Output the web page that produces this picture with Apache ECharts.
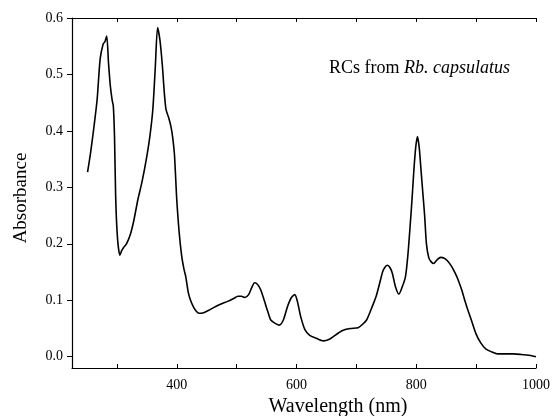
<!DOCTYPE html>
<html>
<head>
<meta charset="utf-8">
<script src="https://cdn.jsdelivr.net/npm/echarts@6/dist/echarts.min.js"></script>
<style>
html,body{margin:0;padding:0;background:#fff;}
#c{width:553px;height:416px;}
</style>
</head>
<body>
<div id="c"></div>
<script>
// Wavelength (nm)
var wavelength = [251,256,262,267,272,277,280,283,286,289,292,294,296,298,301,305,308,311,316,322,328,335,342,349,355,360,364,368,372,376,379,382,386,390,393,396,398,400,404,408,412,415,419,423,428,433,437,445,455,465,475,485,495,502,508,514,520,525,530,535,540,546,552,557,563,571,578,585,591,597,601,607,614,622,632,645,655,662,670,678,690,703,710,717,725,733,740,744,748,752,756,760,765,771,776,782,786,790,793,796,799,802,805,808,811,814,817,821,825,829,835,841,846,852,859,865,870,876,881,887,892,900,908,916,925,936,950,963,975,991,1000];
// Absorbance
var absorbance = [0.327,0.361,0.41,0.456,0.527,0.554,0.558,0.568,0.52,0.48,0.455,0.444,0.39,0.28,0.21,0.18,0.188,0.193,0.2,0.215,0.24,0.278,0.31,0.349,0.39,0.438,0.51,0.583,0.56,0.515,0.47,0.438,0.425,0.409,0.39,0.36,0.32,0.278,0.22,0.18,0.155,0.142,0.115,0.1,0.088,0.08,0.077,0.078,0.083,0.089,0.094,0.098,0.103,0.107,0.107,0.105,0.11,0.122,0.131,0.128,0.119,0.1,0.08,0.065,0.06,0.056,0.065,0.089,0.104,0.11,0.1,0.071,0.048,0.038,0.033,0.028,0.031,0.036,0.042,0.047,0.05,0.0515,0.057,0.065,0.085,0.107,0.135,0.151,0.159,0.162,0.158,0.148,0.125,0.111,0.122,0.142,0.18,0.235,0.28,0.33,0.37,0.39,0.37,0.33,0.29,0.25,0.2,0.175,0.168,0.165,0.172,0.176,0.175,0.17,0.16,0.148,0.136,0.118,0.1,0.08,0.065,0.04,0.024,0.014,0.009,0.005,0.005,0.005,0.004,0.002,0.0];
var xTicks = [300,400,500,600,700,800,900,1000];
var xLabels = [400,600,800,1000];
var yTicks = [0.0,0.1,0.2,0.3,0.4,0.5,0.6];

var points = wavelength.map(function(w,i){return [w, absorbance[i]];});
var serif = '"Liberation Serif", "Times New Roman", serif';
var ink = '#000';

var chart = echarts.init(document.getElementById('c'), null, {renderer:'canvas'});
chart.setOption({
  animation:false,
  backgroundColor:'#fff',
  grid:{left:72, right:10, top:18, bottom:48, containLabel:false},
  xAxis:[{
    type:'value', position:'bottom', min:225, max:1000,
    axisLine:{show:true, onZero:false, lineStyle:{color:ink, width:1.2}},
    axisTick:{show:true, inside:true, length:4, customValues:xTicks, lineStyle:{color:ink}},
    axisLabel:{show:true, customValues:xLabels, margin:10, color:ink, fontFamily:serif, fontSize:14, hideOverlap:false,
      formatter:function(v){return String(v);}},
    splitLine:{show:false}
  },{
    type:'value', position:'top', min:225, max:1000,
    axisLine:{show:true, onZero:false, lineStyle:{color:ink, width:1.2}},
    axisTick:{show:true, inside:true, length:4, customValues:xTicks, lineStyle:{color:ink}},
    axisLabel:{show:false},
    splitLine:{show:false}
  }],
  yAxis:{
    type:'value', min:-0.02, max:0.6,
    axisLine:{show:true, onZero:false, lineStyle:{color:ink, width:1.2}},
    axisTick:{show:true, inside:false, length:5, customValues:yTicks, lineStyle:{color:ink}},
    axisLabel:{show:true, customValues:yTicks, margin:9, color:ink, fontFamily:serif, fontSize:14,
      formatter:function(v){return (Math.round(v*10)/10).toFixed(1);}},
    splitLine:{show:false}
  },
  series:[{
    type:'line', xAxisIndex:0, data:points, showSymbol:false, smooth:0.25,
    lineStyle:{color:ink, width:1.6}
  }],
  graphic:[
    {type:'text', x:329, y:68, style:{
      text:'{n|RCs from }{i|Rb. capsulatus}', align:'left', verticalAlign:'middle',
      rich:{
        n:{fontFamily:serif, fontSize:18, fill:ink},
        i:{fontFamily:serif, fontSize:18, fontStyle:'italic', fill:ink}
      }}},
    {type:'text', x:21, y:198, rotation:Math.PI/2, style:{
      text:'Absorbance', fontFamily:serif, fontSize:19, fill:ink, align:'center', verticalAlign:'middle'}},
    {type:'text', x:338, y:407, style:{
      text:'Wavelength (nm)', fontFamily:serif, fontSize:20, fill:ink, align:'center', verticalAlign:'middle'}}
  ]
});
</script>
</body>
</html>
